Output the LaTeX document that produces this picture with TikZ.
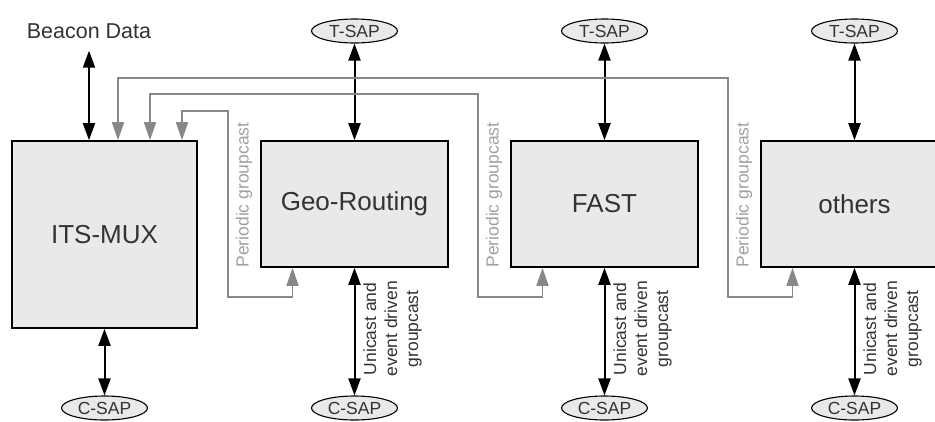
\documentclass[tikz,border=0pt]{standalone}
\usepackage{fontspec}
\setmainfont{Liberation Sans}
\usetikzlibrary{arrows.meta,shapes.geometric,positioning}
\definecolor{boxgray}{HTML}{E9E9E9}
\definecolor{linegray}{HTML}{888888}
\definecolor{textgray}{HTML}{A0A0A0}

\begin{document}
\begin{tikzpicture}[x=1pt,y=-1pt,
		block/.style={draw,line width=1.6pt,fill=boxgray,text=black!80,font=\fontsize{26}{30}\selectfont},
		sap/.style={ellipse,draw,line width=1.1pt,fill=boxgray,text=black!80,minimum width=86pt,minimum height=24pt,inner sep=0pt,font=\fontsize{17.5}{20}\selectfont},
		link/.style={line width=2pt,{Triangle[length=17pt,width=12pt]}-{Triangle[length=17pt,width=12pt]}},
		feed/.style={linegray,line width=1.6pt,{Triangle[length=18pt,width=12pt]}-{Triangle[length=18pt,width=12pt]}},
		small/.style={font=\fontsize{17.5}{21}\selectfont}]
		\useasboundingbox (0,0) rectangle (935,421);
		\clip (0,0) rectangle (935,421);
		\node[block,minimum width=185pt,minimum height=187pt] (mux) at (104.5,234.5) {ITS-MUX};
		\node[block,minimum width=187pt,minimum height=126pt] (geo) at (354.5,204) {Geo-Routing};
		\node[block,minimum width=187pt,minimum height=126pt] (fast) at (604.5,204) {FAST};
		\node[block,minimum width=187pt,minimum height=126pt] (oth) at (854.5,204) {others};
		\node[inner sep=0pt,text=black!80,font=\fontsize{21.5}{25}\selectfont] (beacon) at (89,31) {Beacon Data};
		\node[sap] (cmux) at (104.5,408) {C-SAP};
		\draw[link] ([yshift=-12pt]beacon.south) -- (beacon.south |- mux.north);
		\draw[link] (mux) -- (cmux);
		\foreach \b/\x in {geo/354.5, fast/604.5, oth/854.5}{
			\node[sap] (t\b) at (\x,31) {T-SAP};
			\node[sap] (c\b) at (\x,408) {C-SAP};
			\draw[link] (t\b) -- (\b);
			\draw[link] (\b) -- (c\b);
			\node[small,rotate=90,align=center,text=black!80] at ([xshift=38pt,yshift=-61pt]\b.south)
				{Unicast and\\event driven\\groupcast};
		}
		\foreach \b/\m/\y in {geo/77.5/111, fast/45.5/94, oth/13.5/78}{
			\coordinate (k\b) at ([xshift=-32pt]\b.west);
			\draw[feed] ([xshift=\m pt]mux.north) |- (k\b |- 0,\y) -- (k\b |- 0,297) -| ([xshift=-62pt]\b.south);
			\node[small,rotate=90,text=textgray] at ([xshift=16pt,yshift=9pt]k\b) {Periodic groupcast};
		}
	\end{tikzpicture}
\end{document}
